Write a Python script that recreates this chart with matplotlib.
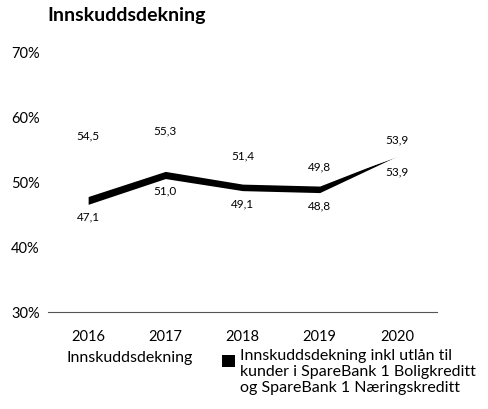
import matplotlib
matplotlib.use("Agg")
import matplotlib.pyplot as plt
from matplotlib.patches import Rectangle
import numpy as np

plt.rcParams['font.family'] = ['Lato', 'DejaVu Sans']

years = ["2016", "2017", "2018", "2019", "2020"]
innskudd = [54.5, 55.3, 51.4, 49.8, 53.9]
innskudd_inkl = [47.1, 51.0, 49.1, 48.8, 53.9]
yticks = [30, 40, 50, 60, 70]
title = "Innskuddsdekning"
legend_labels = ["Innskuddsdekning",
                 "Innskuddsdekning inkl utlån til\nkunder i SpareBank 1 Boligkreditt\nog SpareBank 1 Næringskreditt"]

W, H = 488, 410
fig = plt.figure(figsize=(W/100, H/100), dpi=100)
ax = fig.add_axes([48/W, 1-313/H, 389/W, (313-52)/H])

x = np.arange(len(years))
# invisible (white) series
ax.plot(x, innskudd, color='white', lw=2)
# thick tapered black band
hw = np.array([0.6, 0.55, 0.5, 0.5, 0.03])
y2 = np.array(innskudd_inkl)
ax.fill_between(x, y2 - hw, y2 + hw, color='black', lw=0)

for xi, v in zip(x, innskudd):
    ax.annotate(f"{v:.1f}".replace('.', ','), (xi, v), xytext=(0, 12.5),
                textcoords='offset points', ha='center', va='center', fontsize=8.5)
for xi, v in zip(x, innskudd_inkl):
    ax.annotate(f"{v:.1f}".replace('.', ','), (xi, v), xytext=(0, -11),
                textcoords='offset points', ha='center', va='center', fontsize=8.5)

ax.set_xlim(-0.52, 4.52)
ax.set_ylim(30, 70)
ax.set_xticks(x)
ax.set_xticklabels(years, fontsize=10.5)
ax.set_yticks(yticks)
ax.set_yticklabels([f"{t}%" for t in yticks], fontsize=10.5)
ax.tick_params(axis='both', length=0)
ax.tick_params(axis='x', pad=12)
ax.tick_params(axis='y', pad=6)
for s in ['top', 'right', 'left']:
    ax.spines[s].set_visible(False)
ax.spines['bottom'].set_color('#555555')
ax.spines['bottom'].set_linewidth(0.8)

fig.text(47/W, 1-16/H, title, fontsize=14, fontweight='bold', ha='left', va='center')

# legend
fig.text(67/W, 1-358/H, legend_labels[0], fontsize=11.5, ha='left', va='center')
fig.patches.append(Rectangle((222/W, 1-368/H), 13/W, 12/H, transform=fig.transFigure,
                             facecolor='black', edgecolor='none'))
fig.text(240/W, 1-349/H, legend_labels[1], fontsize=11.5, ha='left', va='top', linespacing=1.2)

fig.savefig("out.png", dpi=100)
